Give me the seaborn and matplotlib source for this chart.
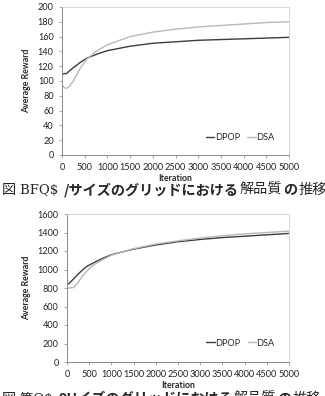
import matplotlib
matplotlib.use("Agg")
import matplotlib.pyplot as plt
import seaborn as sns
import pandas as pd

sns.set_style("white")
plt.rcParams['font.family'] = ['Lato', 'Noto Sans CJK JP', 'DejaVu Sans']

# top chart
it_top = [0, 50, 100, 150, 250, 400, 550, 800, 1000, 1500, 2000, 2500, 3000, 3500, 4000, 4500, 5000]
dpop_top = [109, 110, 110, 113, 118, 125, 131, 137, 141, 147, 151, 153, 155, 156, 157, 158, 159]
dsa_top = [95, 91, 90, 92, 100, 117, 130, 142, 149, 160, 166, 170, 173, 175, 177, 179, 180]

# bottom chart
it_bot = [0, 50, 150, 250, 350, 450, 550, 650, 800, 1000, 1500, 2000, 2500, 3000, 3500, 4000, 4500, 5000]
dpop_bot = [835, 850, 900, 950, 995, 1035, 1060, 1085, 1120, 1160, 1220, 1265, 1300, 1325, 1345, 1360, 1375, 1390]
dsa_bot = [800, 800, 805, 860, 930, 985, 1030, 1065, 1105, 1155, 1225, 1275, 1310, 1340, 1365, 1385, 1400, 1415]

# caption pieces: (text, weight)
cap_top = [("図 ", "normal"), ("ΒFQ$ ", "serif"), ("/サイズのグリッドにおける", "bold"),
           ("解品質", "normal"), ("の", "bold"), ("推移", "normal")]
cap_bot = [("図 ", "normal"), ("第Q$ ", "serif"), ("9Uイズのグリッドにおける", "bold"),
           ("解品質", "normal"), ("の", "bold"), ("推移", "normal")]

W, H = 325, 396
fig = plt.figure(figsize=(3.25, 3.96), dpi=100)
ax1 = fig.add_axes([62 / W, 1 - 155 / H, 227 / W, 148 / H])
ax2 = fig.add_axes([67 / W, 1 - 362 / H, 222 / W, 148 / H])


def draw(ax, it, dpop, dsa, ymax, ystep, leg_y):
    df = pd.DataFrame({"Iteration": it * 2,
                       "Reward": dpop + dsa,
                       "Method": ["DPOP"] * len(it) + ["DSA"] * len(it)})
    sns.lineplot(data=df, x="Iteration", y="Reward", hue="Method",
                 palette={"DPOP": "#3c3c3c", "DSA": "#b8b8b8"}, linewidth=1.0, ax=ax)
    ax.set_xlim(0, 5000)
    ax.set_ylim(0, ymax)
    ax.set_xticks(range(0, 5001, 500))
    ax.set_yticks(range(0, ymax + 1, ystep))
    ax.tick_params(labelsize=6.6, length=2, width=0.6, color="#999999", pad=4,
                   left=True, bottom=True, labelcolor="#222222")
    ax.set_xlabel("Iteration", fontsize=6.3, fontweight="bold", labelpad=1)
    ax.set_ylabel("Average Reward", fontsize=6.3, fontweight="bold", labelpad=5)
    for s in ["top", "right"]:
        ax.spines[s].set_color("#d0d0d0")
        ax.spines[s].set_linewidth(0.6)
    for s in ["left", "bottom"]:
        ax.spines[s].set_color("#8a8a8a")
        ax.spines[s].set_linewidth(0.7)
    leg = ax.legend(loc="center right", bbox_to_anchor=(0.955, leg_y), frameon=False, ncol=2,
                    fontsize=6.6, handlelength=0.9, handletextpad=0.05, columnspacing=0.8,
                    borderpad=0)
    for line in leg.get_lines():
        line.set_linewidth(1.0)


renderer = fig.canvas.get_renderer()


def caption(pieces, x0, y):
    x = x0
    for txt, w in pieces:
        if w == "serif":
            t = fig.text(x / W, 1 - y / H, txt, fontsize=9.5, va="center", ha="left",
                         family=["DejaVu Serif", "Noto Sans CJK JP"])
        else:
            t = fig.text(x / W, 1 - y / H, txt, fontsize=10.2, va="center", ha="left",
                         fontweight=w, family=["Noto Sans CJK JP", "DejaVu Sans"])
        x = t.get_window_extent(renderer).x1 + 1


draw(ax1, it_top, dpop_top, dsa_top, 200, 20, 0.115)
draw(ax2, it_bot, dpop_bot, dsa_bot, 1600, 200, 0.128)

caption(cap_top, 2, 190)
caption(cap_bot, 2, 399)

fig.savefig("out.png", dpi=100)
